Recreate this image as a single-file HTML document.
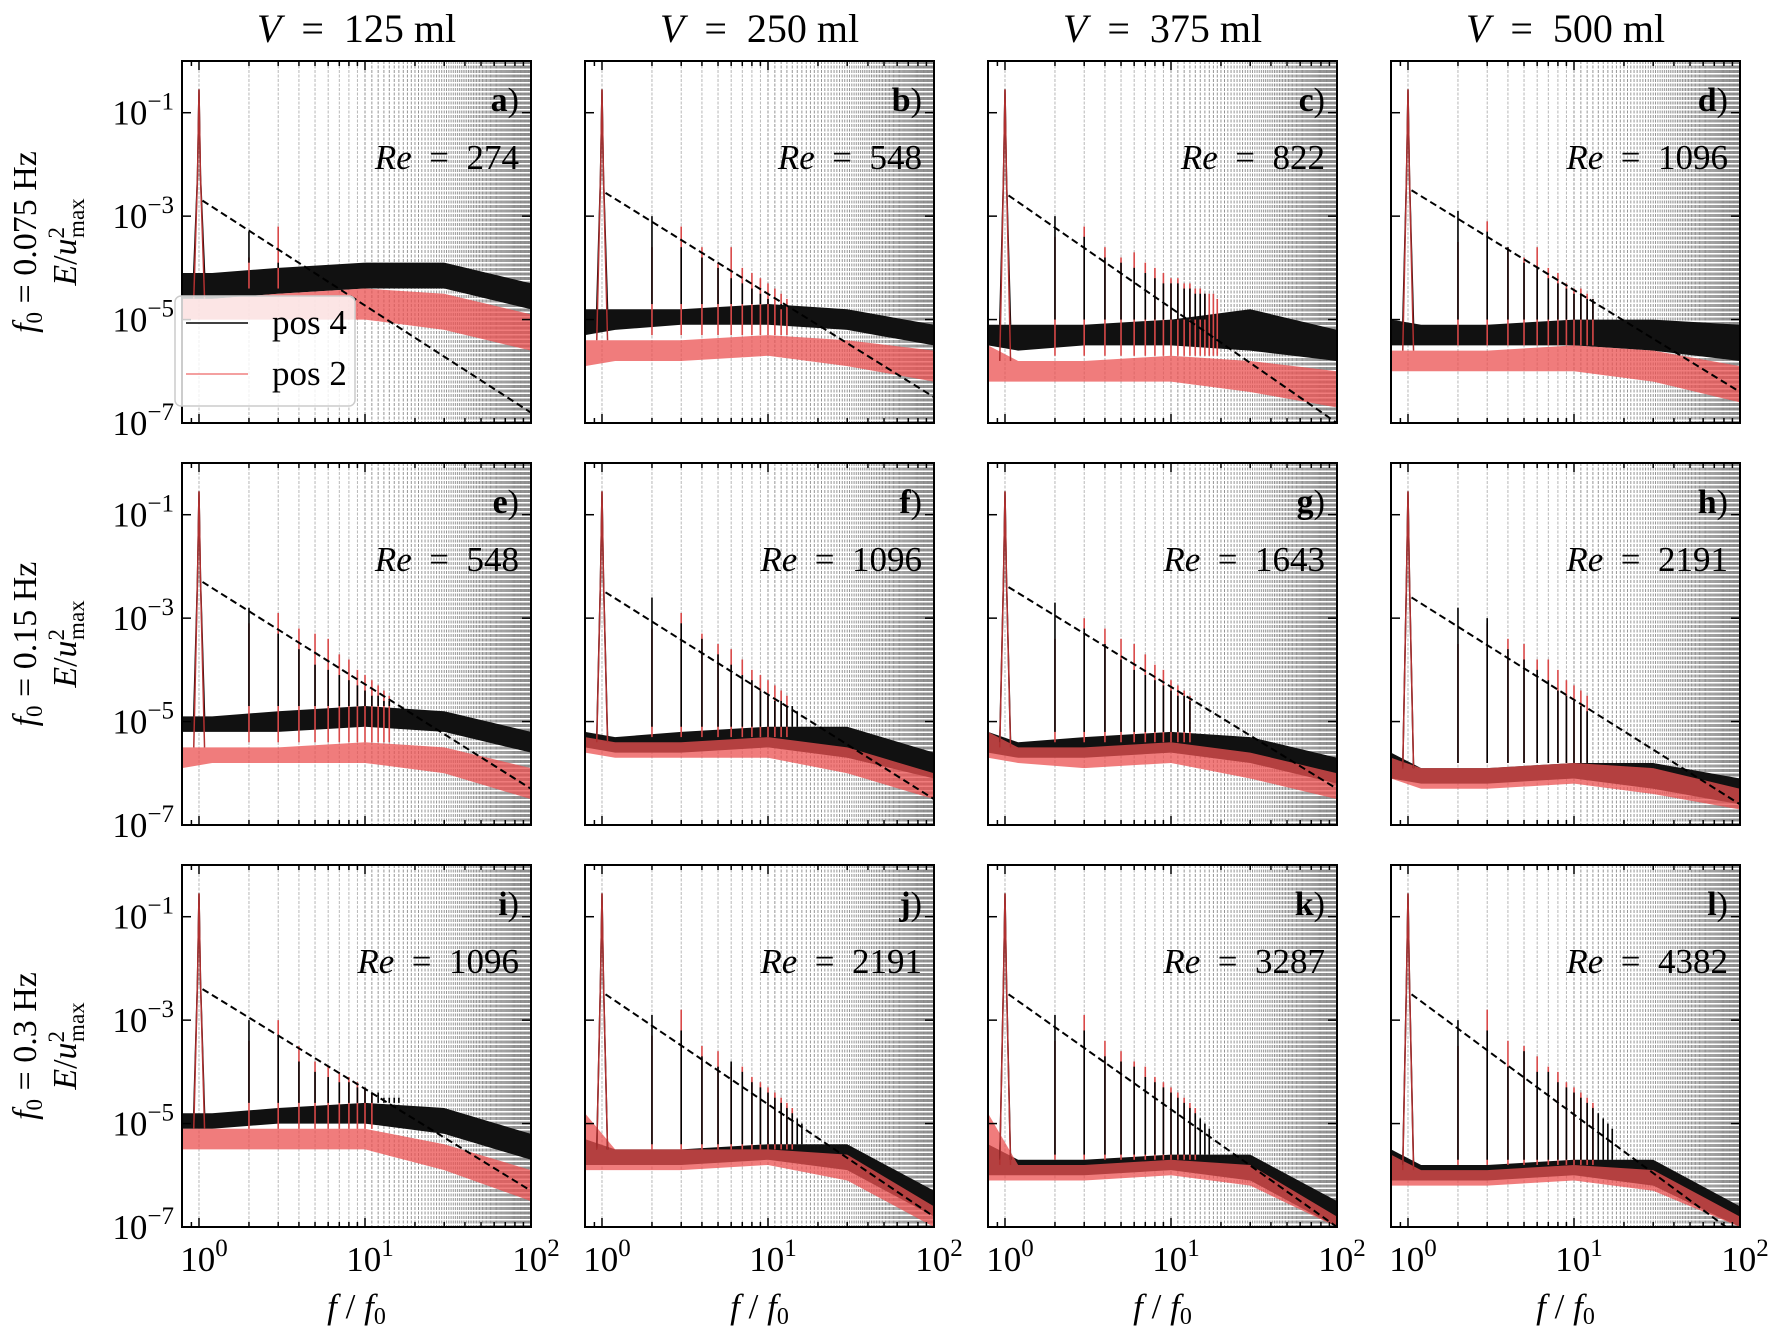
<!DOCTYPE html>
<html><head><meta charset="utf-8"><style>
body{margin:0;background:#fff}
svg{display:block}
text{font-family:"Liberation Serif","DejaVu Serif",serif;fill:#000}
</style></head><body>
<svg id="fig" width="1770" height="1332" viewBox="0 0 1770 1332" xmlns="http://www.w3.org/2000/svg"></svg>
<script>
const colTitles=["125","250","375","500"];
const rowTitles=["0.075","0.15","0.3"];
const letters=["a","b","c","d","e","f","g","h","i","j","k","l"];
const reValues=["274","548","822","1096","548","1096","1643","2191","1096","2191","3287","4382"];
const bandFreqs=[0.79,1.2,3,10,30,100];
const kLo=[[-4.6,-4.6,-4.5,-4.4,-4.4,-4.8],[-5.3,-5.2,-5.1,-5.1,-5.2,-5.5],[-5.5,-5.6,-5.5,-5.5,-5.6,-5.8],[-5.5,-5.5,-5.5,-5.5,-5.6,-5.8],
[-5.2,-5.2,-5.2,-5.1,-5.2,-5.6],[-5.5,-5.6,-5.6,-5.5,-5.7,-6.1],[-5.6,-5.7,-5.7,-5.6,-5.8,-6.2],[-6.1,-6.2,-6.2,-6.1,-6.3,-6.6],
[-5.1,-5.1,-5.0,-5.0,-5.2,-5.7],[-5.8,-5.8,-5.8,-5.7,-5.9,-6.8],[-6.0,-6.0,-6.0,-5.9,-6.1,-7.0],[-6.1,-6.1,-6.1,-6.0,-6.2,-7.0]];
const kHi=[[-4.1,-4.1,-4.0,-3.9,-3.9,-4.3],[-4.8,-4.8,-4.8,-4.7,-4.8,-5.1],[-5.1,-5.1,-5.1,-5.0,-4.8,-5.2],[-5.0,-5.1,-5.1,-5.0,-5.0,-5.1],
[-4.9,-4.9,-4.8,-4.7,-4.8,-5.2],[-5.2,-5.3,-5.2,-5.1,-5.1,-5.6],[-5.2,-5.4,-5.3,-5.2,-5.3,-5.7],[-5.6,-5.9,-5.9,-5.8,-5.8,-6.1],
[-4.8,-4.8,-4.7,-4.6,-4.7,-5.2],[-5.3,-5.5,-5.5,-5.4,-5.4,-6.3],[-5.4,-5.7,-5.7,-5.6,-5.6,-6.5],[-5.5,-5.8,-5.8,-5.7,-5.7,-6.6]];
const rLo=[[-5.0,-5.0,-5.0,-5.0,-5.2,-5.6],[-5.9,-5.8,-5.8,-5.7,-5.9,-6.2],[-6.2,-6.2,-6.2,-6.2,-6.4,-6.7],[-6.0,-6.0,-6.0,-6.0,-6.2,-6.6],
[-5.9,-5.8,-5.8,-5.8,-6.0,-6.5],[-5.6,-5.7,-5.7,-5.7,-6.0,-6.5],[-5.7,-5.8,-5.9,-5.8,-6.1,-6.5],[-6.1,-6.3,-6.3,-6.2,-6.4,-6.7],
[-5.5,-5.5,-5.5,-5.5,-5.9,-6.5],[-5.9,-5.9,-5.9,-5.8,-6.1,-7.0],[-6.1,-6.1,-6.1,-6.0,-6.2,-7.0],[-6.2,-6.2,-6.2,-6.1,-6.3,-7.0]];
const rHi=[[-4.6,-4.6,-4.5,-4.4,-4.5,-4.9],[-5.4,-5.4,-5.4,-5.3,-5.4,-5.6],[-5.5,-5.8,-5.8,-5.7,-5.8,-6.0],[-5.6,-5.6,-5.6,-5.5,-5.6,-5.9],
[-5.5,-5.5,-5.5,-5.4,-5.5,-5.9],[-5.3,-5.4,-5.4,-5.3,-5.5,-6.0],[-5.2,-5.5,-5.5,-5.4,-5.6,-6.0],[-5.7,-5.9,-5.9,-5.8,-5.9,-6.3],
[-5.1,-5.1,-5.1,-5.1,-5.4,-5.9],[-4.8,-5.5,-5.5,-5.5,-5.6,-6.6],[-4.8,-5.8,-5.8,-5.7,-5.8,-6.8],[-5.6,-5.9,-5.9,-5.8,-5.9,-6.8]];
const peaksK=[[-3.3,-4.0],[-3.0,-3.6,-3.8,-4.0,-4.2,-4.3,-4.4,-4.5,-4.6,-4.7,-4.8],
[-3.0,-3.4,-3.8,-3.9,-4.0,-4.1,-4.2,-4.3,-4.3,-4.3,-4.4,-4.4,-4.5,-4.5,-4.5],[-2.9,-3.3,-3.6,-3.9,-4.0,-4.2,-4.3,-4.4,-4.5,-4.5,-4.6,-4.6],
[-2.8,-3.3,-3.6,-3.9,-4.0,-4.1,-4.2,-4.3,-4.4,-4.5,-4.5,-4.6,-4.6],[-2.6,-3.1,-3.4,-3.7,-3.9,-4.1,-4.2,-4.4,-4.5,-4.6,-4.6,-4.7,-4.7,-4.8],
[-2.7,-3.2,-3.5,-3.8,-4.0,-4.1,-4.2,-4.3,-4.4,-4.5,-4.5,-4.6],[-2.8,-3.0,-3.6,-3.8,-4.0,-4.2,-4.4,-4.5,-4.6,-4.7,-4.8],
[-3.0,-3.3,-3.8,-4.0,-4.1,-4.2,-4.2,-4.3,-4.3,-4.4,-4.4,-4.5,-4.5,-4.5,-4.5],[-2.9,-3.2,-3.7,-3.9,-3.8,-4.0,-4.2,-4.3,-4.4,-4.5,-4.6,-4.7,-4.8,-4.9,-5.0],
[-2.9,-3.2,-3.7,-3.8,-3.9,-4.1,-4.2,-4.3,-4.4,-4.5,-4.6,-4.7,-4.8,-4.9,-5.0,-5.1],[-3.0,-3.2,-3.9,-3.6,-4.0,-4.0,-4.2,-4.3,-4.4,-4.5,-4.6,-4.7,-4.8,-4.9,-5.0,-5.1]];
const peaksR=[[-3.8,-3.2],[-3.6,-3.2,-3.6,-3.9,-3.6,-4.0,-4.1,-4.2,-4.3,-4.4,-4.5,-4.6],
[-3.4,-3.2,-3.6,-3.8,-3.7,-3.9,-4.0,-4.1,-4.2,-4.2,-4.3,-4.3,-4.4,-4.4,-4.5,-4.5,-4.5,-4.6],[-3.5,-3.1,-3.6,-3.8,-3.6,-4.0,-4.1,-4.3,-4.4,-4.4,-4.5,-4.6],
[-3.1,-2.9,-3.2,-3.3,-3.4,-3.7,-3.8,-4.0,-4.1,-4.2,-4.3,-4.4,-4.5],[-3.2,-2.9,-3.3,-3.5,-3.6,-3.8,-4.0,-4.1,-4.2,-4.3,-4.4,-4.5],
[-3.4,-3.0,-3.2,-3.4,-3.5,-3.7,-3.9,-4.0,-4.2,-4.3,-4.4,-4.5],[-3.5,-3.1,-3.4,-3.5,-3.8,-3.8,-4.0,-4.2,-4.3,-4.4,-4.5],
[-3.4,-3.0,-3.5,-3.8,-3.9,-4.0,-4.1,-4.2,-4.3,-4.4],[-3.3,-2.8,-3.5,-3.6,-3.9,-3.9,-4.1,-4.2,-4.3,-4.4,-4.5,-4.6,-4.7],
[-3.4,-2.9,-3.4,-3.6,-3.8,-3.9,-4.1,-4.2,-4.3,-4.4,-4.5,-4.6,-4.7],[-3.5,-2.8,-3.4,-3.5,-3.7,-3.9,-4.0,-4.2,-4.3,-4.4,-4.5,-4.6]];
const dashStart=[-2.7,-2.55,-2.6,-2.5,-2.3,-2.5,-2.4,-2.6,-2.4,-2.5,-2.5,-2.5];
const dashEnd=[-6.8,-6.5,-7.0,-6.4,-6.3,-6.5,-6.3,-6.6,-6.3,-6.8,-7.0,-7.2];
const mainPeak=[-0.55,-0.55,-0.55,-0.55,-0.55,-0.55,-0.55,-0.55,-0.55,-0.55,-0.55,-0.55];
const xTicks=[1,10,100];
const xTickLabels=["0","1","2"];
const yTicks=[-1,-3,-5,-7];

const NS="http://www.w3.org/2000/svg";
const svg=document.getElementById('fig');
function mk(tag,attrs,parent){const e=document.createElementNS(NS,tag);for(const k in attrs)e.setAttribute(k,attrs[k]);(parent||svg).appendChild(e);return e;}
const PW=349,PH=362,X0=182,Y0=61,DX=403,DY=402;
const LXMIN=Math.log10(0.79),LXMAX=2;

for(let c=0;c<4;c++){
  const t=mk('text',{x:X0+c*DX+PW/2,y:42,'text-anchor':'middle','font-size':40});
  
  
  t.innerHTML='<tspan font-style="italic">V</tspan>  =  '+colTitles[c]+' ml';
  t.setAttribute('xml:space','preserve');
  t.style.whiteSpace='pre';
}
for(let r=0;r<3;r++){
  const cy=Y0+r*DY+PH/2;
  const t=mk('text',{x:0,y:0,'text-anchor':'middle','font-size':34,transform:`translate(36,${cy}) rotate(-90)`});
  
  
  t.style.whiteSpace='pre';
  t.innerHTML='<tspan font-style="italic">f</tspan><tspan font-size="23" dy="6">0</tspan><tspan dy="-6"> = '+rowTitles[r]+' Hz</tspan>';
  const t2=mk('text',{x:0,y:0,'text-anchor':'middle','font-size':34,transform:`translate(76,${cy}) rotate(-90)`});
  
  
  t2.innerHTML='<tspan font-style="italic">E</tspan>/<tspan font-style="italic">u</tspan><tspan font-size="23" dy="-12">2</tspan><tspan font-size="23" dx="-11" dy="20">max</tspan>';
}

for(let p=0;p<12;p++){
  const r=Math.floor(p/4),c=p%4;
  const L=X0+c*DX,T=Y0+r*DY;
  const xs=f=>L+(Math.log10(f)-LXMIN)/(LXMAX-LXMIN)*PW;
  const ys=l=>T+(0-l)/7*PH;
  const g=mk('g',{});
  
  
  const cp=mk('clipPath',{id:'cp'+p},g);
  mk('rect',{x:L,y:T,width:PW,height:PH},cp);
  const inner=mk('g',{'clip-path':`url(#cp${p})`},g);
  for(let n=1;n<=100;n++){
    const gl=mk('line',{x1:xs(n),x2:xs(n),y1:T,y2:T+PH,stroke:n<10?'#b0b0b0':'#8a8a8a','stroke-width':0.9,'stroke-dasharray':'3,1.5'},inner);
    
    
  }
  const band=(lo,hi,fill,name)=>{
    let pts=[];
    for(let i=0;i<bandFreqs.length;i++)pts.push(xs(bandFreqs[i])+','+ys(hi[i]));
    for(let i=bandFreqs.length-1;i>=0;i--)pts.push(xs(bandFreqs[i])+','+ys(lo[i]));
    const b=mk('polygon',{points:pts.join(' '),fill:fill},inner);
    
    
  };
  band(kLo[p],kHi[p],'#111','pos4-noise-band');
  band(rLo[p],rHi[p],'rgba(235,80,80,0.75)','pos2-noise-band');
  const spikes=(arr,base,col,name)=>{
    arr.forEach((v,i)=>{
      const n=i+2;
      const s=mk('line',{x1:xs(n),x2:xs(n),y1:ys(v),y2:ys(base),stroke:col,'stroke-width':1.6},inner);
      
      
    });
  };
  spikes(peaksR[p],rHi[p][3],'#d84848','pos2-harmonic-peak');
  spikes(peaksK[p],kHi[p][3],'#000','pos4-harmonic-peak');
  const mp=(base,col,name)=>{
    const pts=[[0.93,base],[0.98,-2.2],[1.0,mainPeak[p]],[1.02,-2.2],[1.08,base]];
    const e=mk('polyline',{points:pts.map(q=>xs(q[0])+','+ys(q[1])).join(' '),fill:'none',stroke:col,'stroke-width':1.5},inner);
    
    
  };
  mp(kHi[p][1],'#000','pos4-main-peak');
  mp(rHi[p][1],'#b03030','pos2-main-peak');
  const d=mk('line',{x1:xs(1.05),y1:ys(dashStart[p]),x2:xs(100),y2:ys(dashEnd[p]),stroke:'#000','stroke-width':2,'stroke-dasharray':'7,4'},inner);
  
  
  const fr=mk('rect',{x:L,y:T,width:PW,height:PH,fill:'none',stroke:'#000','stroke-width':2},g);
  
  
  for(let dec=0;dec<2;dec++)for(let m=1;m<=9;m++){
    const f=Math.pow(10,dec)*m;
    const x=xs(f),len=m===1?9:5;
    mk('line',{x1:x,x2:x,y1:T+PH,y2:T+PH-len,stroke:'#000','stroke-width':1.5},g);
    mk('line',{x1:x,x2:x,y1:T,y2:T+len,stroke:'#000','stroke-width':1.5},g);
  }
  mk('line',{x1:xs(0.9),x2:xs(0.9),y1:T+PH,y2:T+PH-5,stroke:'#000','stroke-width':1.5},g);
  mk('line',{x1:xs(0.9),x2:xs(0.9),y1:T,y2:T+5,stroke:'#000','stroke-width':1.5},g);
  yTicks.forEach(v=>{
    mk('line',{x1:L,x2:L+9,y1:ys(v),y2:ys(v),stroke:'#000','stroke-width':1.5},g);
    mk('line',{x1:L+PW,x2:L+PW-9,y1:ys(v),y2:ys(v),stroke:'#000','stroke-width':1.5},g);
    if(c===0){
      const t=mk('text',{x:L-8,y:ys(v)+12,'text-anchor':'end','font-size':35},g);
      
      
      t.innerHTML='10<tspan font-size="25" dy="-15">−'+(-v)+'</tspan>';
    }
  });
  if(r===2){
    xTicks.forEach((f,i)=>{
      const t=mk('text',{x:xs(f)+5,y:T+PH+44,'text-anchor':'middle','font-size':35},g);
      
      
      t.innerHTML='10<tspan font-size="25" dy="-15">'+xTickLabels[i]+'</tspan>';
    });
    const xl=mk('text',{x:L+PW/2,y:1318,'text-anchor':'middle','font-size':35},g);
    
    
    xl.innerHTML='<tspan font-style="italic">f</tspan> / <tspan font-style="italic">f</tspan><tspan font-size="24" dy="6">0</tspan>';
  }
  const lt=mk('text',{x:L+PW-12,y:T+50,'text-anchor':'end','font-size':34},g);
  
  
  lt.innerHTML='<tspan font-weight="bold">'+letters[p]+'</tspan>)';
  const rt=mk('text',{x:L+PW-12,y:T+108,'text-anchor':'end','font-size':35},g);
  
  
  rt.style.whiteSpace='pre';
  rt.innerHTML='<tspan font-style="italic">Re</tspan>  =  '+reValues[p];
}
const lg=mk('g',{});


mk('rect',{x:175,y:296,width:180,height:110,rx:6,fill:'rgba(255,255,255,0.8)',stroke:'#ccc','stroke-width':1.5},lg);
const e1=mk('g',{},lg);


mk('line',{x1:186,x2:248,y1:323,y2:323,stroke:'#000','stroke-width':1.5},e1);
mk('text',{x:272,y:334,'font-size':35},e1).textContent='pos 4';
const e2=mk('g',{},lg);


mk('line',{x1:186,x2:248,y1:374,y2:374,stroke:'#f08080','stroke-width':1.5},e2);
mk('text',{x:272,y:385,'font-size':35},e2).textContent='pos 2';
</script>
</body></html>
